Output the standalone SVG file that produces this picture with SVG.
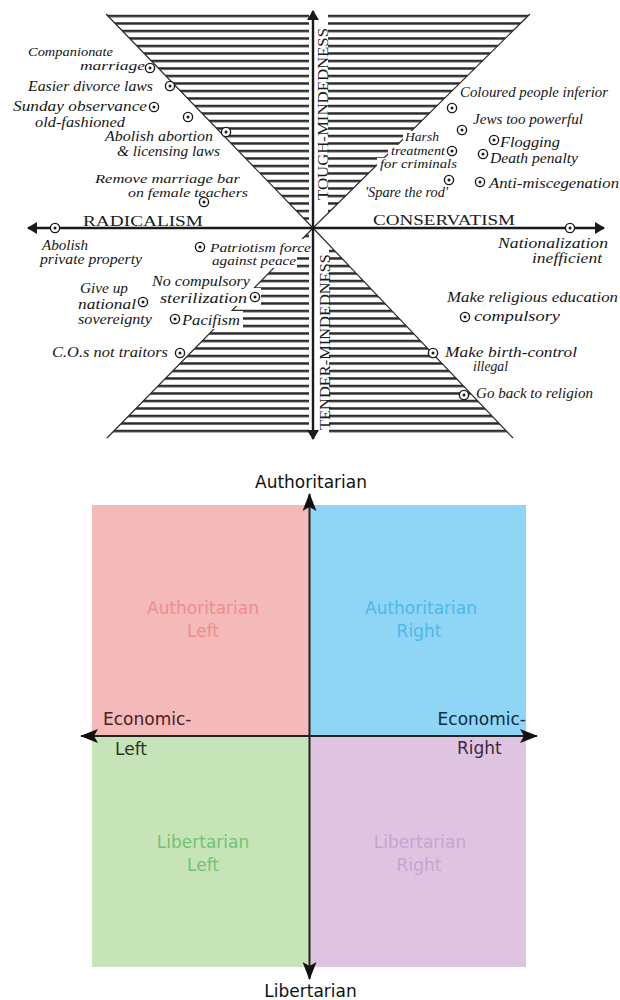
<svg xmlns="http://www.w3.org/2000/svg" xmlns:xlink="http://www.w3.org/1999/xlink" width="620" height="1000" viewBox="0 0 620 1000">
<style>
.h{font-family:"Liberation Serif","DejaVu Serif",serif;font-style:italic;font-size:14px;fill:#161616}
.t{font-size:12.5px}
.cap{font-family:"Liberation Serif","DejaVu Serif",serif;font-size:14px;fill:#1b1b1b}
.ax{stroke:#1a1a1a;stroke-width:2.4;fill:none}
.diag{stroke:#2b2b2b;stroke-width:1.2;fill:none}
.pc{fill:#fff;stroke:#1b1b1b;stroke-width:1.4}
.pd{fill:#1b1b1b}
.s{font-family:"DejaVu Sans","Noto Sans",sans-serif;font-size:17px}
.ax2{stroke:#222;stroke-width:2;fill:none}
</style>
<defs>
<pattern id="hatchU" patternUnits="userSpaceOnUse" x="0" y="14.75" width="20" height="7.5"><rect x="0" y="0" width="20" height="2.5" fill="#2b2b2b"/></pattern>
<pattern id="hatchL" patternUnits="userSpaceOnUse" x="0" y="234.75" width="20" height="7.5"><rect x="0" y="0" width="20" height="2.5" fill="#2b2b2b"/></pattern>
<mask id="hm" maskUnits="userSpaceOnUse" x="0" y="0" width="620" height="460">
<rect x="0" y="0" width="620" height="460" fill="#fff"/>
<rect x="403" y="131" width="40" height="14" fill="#000"/>
<rect x="388" y="145" width="59" height="13" fill="#000"/>
<rect x="377" y="158" width="82" height="13" fill="#000"/>
<rect x="195" y="239" width="118" height="17" fill="#000"/>
<rect x="205" y="256" width="92" height="12" fill="#000"/>
<rect x="150" y="273" width="103" height="15" fill="#000"/>
<rect x="158" y="288" width="103" height="18" fill="#000"/>
<rect x="169" y="311" width="74" height="18" fill="#000"/>
</mask>
<g id="pt"><circle class="pc" cx="0" cy="0" r="4.6"/><circle class="pd" cx="0" cy="0" r="1.5"/></g>
<marker id="arrS" viewBox="0 0 10 12" refX="9" refY="6" markerWidth="10" markerHeight="12" markerUnits="userSpaceOnUse" orient="auto-start-reverse"><path d="M0,0 L10,6 L0,12 z" fill="#1a1a1a"/></marker>
<marker id="arrB" viewBox="0 0 18 14" refX="17" refY="7" markerWidth="18" markerHeight="14" markerUnits="userSpaceOnUse" orient="auto-start-reverse"><path d="M0,0 L18,7 L0,14 L4,7 z" fill="#111"/></marker>
</defs>
<rect x="0" y="0" width="620" height="1000" fill="#fff"/>

<!-- Eysenck diagram -->
<g id="hatching" mask="url(#hm)">
<polygon points="106,14 309,14 309,223.9" fill="url(#hatchU)"/>
<polygon points="328,14 530,14 328,213.2" fill="url(#hatchU)"/>
<polygon points="309,232.1 309,433 112,433" fill="url(#hatchL)"/>
<polygon points="329,244.8 329,433 508.2,433" fill="url(#hatchL)"/>
<path class="diag" d="M106,14 L313,228 M530,14 L313,228 M313,228 L107,438 M313,228 L513,438"/>
</g>

<g id="eysenck-axes">
<line class="ax" x1="28" y1="228" x2="604" y2="228" marker-start="url(#arrS)" marker-end="url(#arrS)"/>
<line class="ax" x1="313" y1="439" x2="313" y2="11" marker-start="url(#arrS)" marker-end="url(#arrS)"/>
</g>

<g id="eysenck-axis-labels">
<text class="cap" x="83" y="226" textLength="120" lengthAdjust="spacingAndGlyphs">RADICALISM</text>
<text class="cap" x="373" y="225" textLength="142" lengthAdjust="spacingAndGlyphs">CONSERVATISM</text>
<text class="cap" transform="translate(328,200) rotate(-90)" textLength="172" lengthAdjust="spacingAndGlyphs">TOUGH-MINDEDNESS</text>
<text class="cap" transform="translate(329.5,430) rotate(-90)" textLength="176" lengthAdjust="spacingAndGlyphs">TENDER-MINDEDNESS</text>
</g>

<g id="eysenck-points">
<use xlink:href="#pt" x="150" y="68"/>
<use xlink:href="#pt" x="170" y="86"/>
<use xlink:href="#pt" x="154" y="107"/>
<use xlink:href="#pt" x="188" y="117"/>
<use xlink:href="#pt" x="226" y="132"/>
<use xlink:href="#pt" x="204" y="202"/>
<use xlink:href="#pt" x="452" y="108"/>
<use xlink:href="#pt" x="462" y="130"/>
<use xlink:href="#pt" x="452" y="151"/>
<use xlink:href="#pt" x="494" y="140"/>
<use xlink:href="#pt" x="483" y="154"/>
<use xlink:href="#pt" x="449" y="180"/>
<use xlink:href="#pt" x="480" y="182"/>
<use xlink:href="#pt" x="55" y="228"/>
<use xlink:href="#pt" x="570" y="228"/>
<use xlink:href="#pt" x="200" y="247"/>
<use xlink:href="#pt" x="255" y="297"/>
<use xlink:href="#pt" x="143" y="302"/>
<use xlink:href="#pt" x="175" y="319"/>
<use xlink:href="#pt" x="180" y="353"/>
<use xlink:href="#pt" x="465" y="317"/>
<use xlink:href="#pt" x="433" y="353"/>
<use xlink:href="#pt" x="464" y="395"/>
</g>

<g id="eysenck-texts">
<text class="h t" x="28" y="56" textLength="85" lengthAdjust="spacingAndGlyphs">Companionate</text>
<text class="h t" x="80" y="70" textLength="65" lengthAdjust="spacingAndGlyphs">marriage</text>
<text class="h" x="28" y="91" textLength="125" lengthAdjust="spacingAndGlyphs">Easier divorce laws</text>
<text class="h" x="13" y="111" textLength="134" lengthAdjust="spacingAndGlyphs">Sunday observance</text>
<text class="h" x="35" y="127" textLength="90" lengthAdjust="spacingAndGlyphs">old-fashioned</text>
<text class="h" x="105" y="141" textLength="108" lengthAdjust="spacingAndGlyphs">Abolish abortion</text>
<text class="h" x="117" y="156" textLength="103" lengthAdjust="spacingAndGlyphs">&amp; licensing laws</text>
<text class="h t" x="95" y="183" textLength="145" lengthAdjust="spacingAndGlyphs">Remove marriage bar</text>
<text class="h t" x="128" y="197" textLength="120" lengthAdjust="spacingAndGlyphs">on female teachers</text>
<text class="h" x="460" y="97" textLength="148" lengthAdjust="spacingAndGlyphs">Coloured people inferior</text>
<text class="h" x="473" y="124" textLength="110" lengthAdjust="spacingAndGlyphs">Jews too powerful</text>
<text class="h t" x="405" y="141" textLength="34" lengthAdjust="spacingAndGlyphs">Harsh</text>
<text class="h t" x="391" y="155" textLength="54" lengthAdjust="spacingAndGlyphs">treatment</text>
<text class="h t" x="380" y="168" textLength="77" lengthAdjust="spacingAndGlyphs">for criminals</text>
<text class="h" x="500" y="147" textLength="60" lengthAdjust="spacingAndGlyphs">Flogging</text>
<text class="h" x="490" y="163" textLength="88" lengthAdjust="spacingAndGlyphs">Death penalty</text>
<text class="h" x="489" y="188" textLength="130" lengthAdjust="spacingAndGlyphs">Anti-miscegenation</text>
<text class="h" x="365" y="197" textLength="83" lengthAdjust="spacingAndGlyphs">'Spare the rod'</text>
<text class="h" x="42" y="250" textLength="46" lengthAdjust="spacingAndGlyphs">Abolish</text>
<text class="h" x="40" y="264" textLength="102" lengthAdjust="spacingAndGlyphs">private property</text>
<text class="h t" x="210" y="252" textLength="101" lengthAdjust="spacingAndGlyphs">Patriotism force</text>
<text class="h t" x="212" y="265" textLength="84" lengthAdjust="spacingAndGlyphs">against peace</text>
<text class="h" x="152" y="286" textLength="98" lengthAdjust="spacingAndGlyphs">No compulsory</text>
<text class="h" x="160" y="303" textLength="87" lengthAdjust="spacingAndGlyphs">sterilization</text>
<text class="h" x="80" y="293" textLength="48" lengthAdjust="spacingAndGlyphs">Give up</text>
<text class="h" x="78" y="309" textLength="58" lengthAdjust="spacingAndGlyphs">national</text>
<text class="h" x="78" y="324" textLength="74" lengthAdjust="spacingAndGlyphs">sovereignty</text>
<text class="h" x="182" y="325" textLength="58" lengthAdjust="spacingAndGlyphs">Pacifism</text>
<text class="h" x="52" y="357" textLength="116" lengthAdjust="spacingAndGlyphs">C.O.s not traitors</text>
<text class="h" x="498" y="248" textLength="110" lengthAdjust="spacingAndGlyphs">Nationalization</text>
<text class="h" x="532" y="263" textLength="70" lengthAdjust="spacingAndGlyphs">inefficient</text>
<text class="h" x="447" y="302" textLength="171" lengthAdjust="spacingAndGlyphs">Make religious education</text>
<text class="h" x="474" y="321" textLength="86" lengthAdjust="spacingAndGlyphs">compulsory</text>
<text class="h" x="445" y="357" textLength="132" lengthAdjust="spacingAndGlyphs">Make birth-control</text>
<text class="h" x="473" y="371" textLength="35" lengthAdjust="spacingAndGlyphs">illegal</text>
<text class="h" x="476" y="398" textLength="117" lengthAdjust="spacingAndGlyphs">Go back to religion</text>
</g>

<!-- Political compass -->
<g id="q-auth-left">
<rect x="92" y="505" width="217.5" height="231" fill="#F4B9B9"/>
<text class="s" x="203" y="614" text-anchor="middle" fill="#EE8E8E">Authoritarian</text>
<text class="s" x="203" y="637" text-anchor="middle" fill="#EE8E8E">Left</text>
</g>
<g id="q-auth-right">
<rect x="309.5" y="505" width="216.5" height="231" fill="#8FD5F6"/>
<text class="s" x="421" y="614" text-anchor="middle" fill="#4DB9E6">Authoritarian</text>
<text class="s" x="419" y="637" text-anchor="middle" fill="#4DB9E6">Right</text>
</g>
<g id="q-lib-left">
<rect x="92" y="736" width="217.5" height="231" fill="#C7E4B9"/>
<text class="s" x="203" y="848" text-anchor="middle" fill="#72C372">Libertarian</text>
<text class="s" x="203" y="871" text-anchor="middle" fill="#72C372">Left</text>
</g>
<g id="q-lib-right">
<rect x="309.5" y="736" width="216.5" height="231" fill="#DEC4E1"/>
<text class="s" x="420" y="848" text-anchor="middle" fill="#C8A3D1">Libertarian</text>
<text class="s" x="419" y="871" text-anchor="middle" fill="#C8A3D1">Right</text>
</g>
<g id="compass-axes">
<line class="ax2" x1="81" y1="736" x2="537" y2="736" marker-start="url(#arrB)" marker-end="url(#arrB)"/>
<line class="ax2" x1="309.5" y1="979" x2="309.5" y2="494" marker-start="url(#arrB)" marker-end="url(#arrB)"/>
</g>
<g id="compass-labels">
<text class="s" x="311" y="488" text-anchor="middle" fill="#111">Authoritarian</text>
<text class="s" x="310.5" y="997" text-anchor="middle" fill="#111">Libertarian</text>
<text class="s" x="103" y="725" fill="#4a2226">Economic-</text>
<text class="s" x="115" y="755" fill="#1f3a1f">Left</text>
<text class="s" x="526" y="725" text-anchor="end" fill="#132c3c">Economic-</text>
<text class="s" x="457" y="754" fill="#3a2a3c">Right</text>
</g>
</svg>
